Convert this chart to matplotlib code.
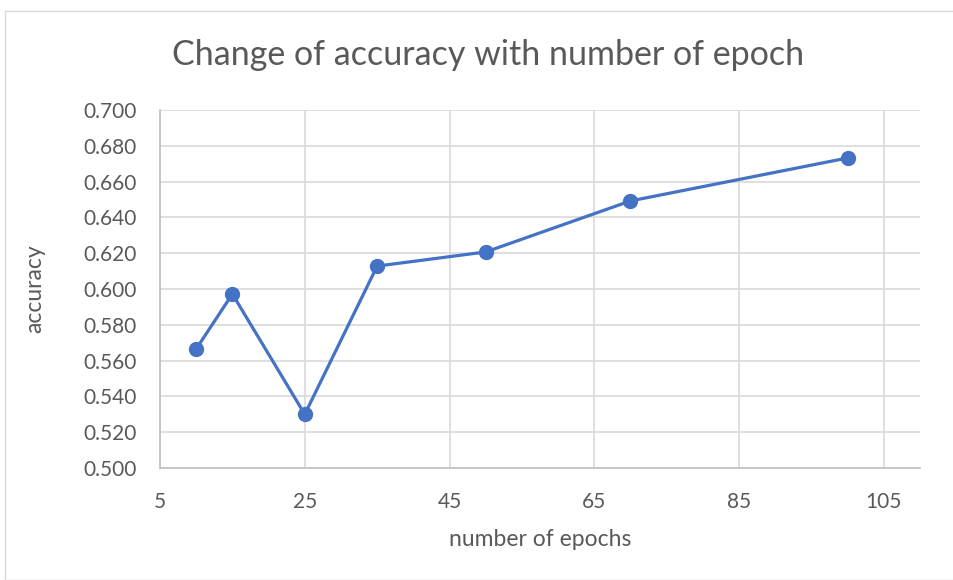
import matplotlib
matplotlib.use("Agg")
from matplotlib import pyplot as plt
from matplotlib.patches import Rectangle

# data
epochs = [10, 15, 25, 35, 50, 70, 100]
accuracy = [0.5665, 0.5972, 0.5300, 0.6128, 0.6207, 0.6492, 0.6732]
x_ticks = [5, 25, 45, 65, 85, 105]
y_ticks = [0.50, 0.52, 0.54, 0.56, 0.58, 0.60, 0.62, 0.64, 0.66, 0.68, 0.70]

plt.rcParams['font.family'] = ['Lato', 'DejaVu Sans']
txt = "#595959"
grid = "#D9D9D9"

fig = plt.figure(figsize=(9.54, 5.8), dpi=100)
fig.patch.set_facecolor("white")
# chart border like excel
fig.patches.append(Rectangle((5/954, 0), 1, 1 - 11/580, transform=fig.transFigure,
                             fill=False, edgecolor=grid, linewidth=1.0))

ax = fig.add_axes([160/954, 1 - 468/580, (920 - 160)/954, (468 - 110)/580])

ax.plot(epochs, accuracy, color="#4472C4", linewidth=2.3, marker="o",
        markersize=10, zorder=3)

ax.set_xlim(5, 110)
ax.set_ylim(0.5, 0.7)
ax.set_xticks(x_ticks)
ax.set_yticks(y_ticks)
ax.set_yticklabels([f"{v:.3f}" for v in y_ticks])
ax.grid(True, color=grid, linewidth=1.2)
ax.set_axisbelow(True)

for s in ["top", "right"]:
    ax.spines[s].set_visible(False)
for s in ["left", "bottom"]:
    ax.spines[s].set_color("#BFBFBF")
    ax.spines[s].set_linewidth(1.2)

ax.tick_params(length=0, labelsize=15, colors=txt)
ax.tick_params(axis="y", pad=17)
ax.tick_params(axis="x", pad=17)

fig.text(488/954, 1 - 55/580, "Change of accuracy with number of epoch",
         fontsize=24.5, color=txt, ha="center", va="center")
fig.text(540/954, 1 - 540/580, "number of epochs", fontsize=16.5, color=txt,
         ha="center", va="center")
fig.text(35/954, 1 - 289/580, "accuracy", fontsize=16.5, color=txt,
         ha="center", va="center", rotation=90)

fig.savefig("out.png", dpi=100)
